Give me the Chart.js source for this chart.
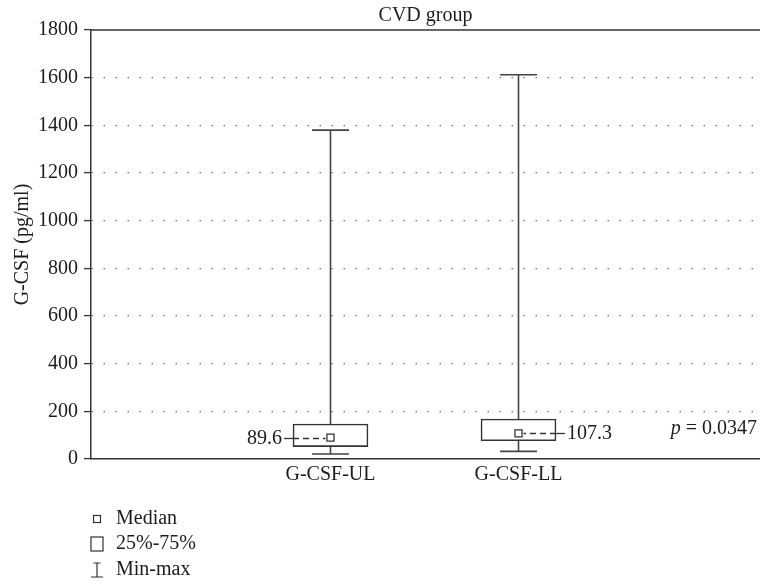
<!DOCTYPE html>
<html>
<head>
<meta charset="utf-8">
<title>CVD group</title>
<script src="https://cdn.jsdelivr.net/npm/chart.js@4.4.1/dist/chart.umd.min.js"></script>
<style>
    html, body { margin: 0; padding: 0; background: #fff; }
    #wrap { width: 760px; height: 584px; }
</style>
</head>
<body>
<div id="wrap"><canvas id="boxChart" width="760" height="584"></canvas></div>
<script>
// Box plot values (pg/ml)
const categories = ["G-CSF-UL", "G-CSF-LL"];
const minVals = [21, 32];
const q1Vals = [52, 77];
const medianVals = [89.6, 107.3];
const q3Vals = [147, 168];
const maxVals = [1380, 1612];
const medianText = ["89.6", "107.3"];
const legendLabels = ["Median", "25%-75%", "Min-max"];
const pValueText = "0.0347";

const yMin = 0;
const yMax = 1800;
const yStep = 200;

const FONT = "'Liberation Serif', 'Times New Roman', serif";
const INK = "#1c1c1c";
const LINE = "#333";

Chart.defaults.font.family = FONT;
Chart.defaults.font.size = 20;
Chart.defaults.color = INK;

// which side of the box the median label sits on
const medianSide = ["left", "right"];

const boxExtras = {
    id: "boxExtras",
    beforeDatasetsDraw(chart) {
        const { ctx, chartArea, scales: { x, y } } = chart;
        ctx.save();
        // top frame line
        ctx.strokeStyle = LINE;
        ctx.lineWidth = 1.5;
        ctx.beginPath();
        ctx.moveTo(chartArea.left, chartArea.top);
        ctx.lineTo(chartArea.right, chartArea.top);
        ctx.stroke();

        // whiskers + caps
        ctx.strokeStyle = "#444";
        ctx.lineWidth = 1.6;
        const cap = 18.5;
        categories.forEach((c, i) => {
            const px = Math.round(x.getPixelForValue(i + 1)) + 0.5;
            [[q3Vals[i], maxVals[i]], [q1Vals[i], minVals[i]]].forEach(([from, to]) => {
                const yTo = y.getPixelForValue(to);
                ctx.beginPath();
                ctx.moveTo(px, y.getPixelForValue(from));
                ctx.lineTo(px, yTo);
                ctx.moveTo(px - cap, yTo);
                ctx.lineTo(px + cap, yTo);
                ctx.stroke();
            });
        });
        ctx.restore();
    },
    afterDatasetsDraw(chart) {
        const { ctx, chartArea, scales: { x, y } } = chart;
        const half = 37.5;
        ctx.save();
        ctx.font = "20px " + FONT;
        ctx.fillStyle = INK;
        ctx.textBaseline = "middle";
        categories.forEach((c, i) => {
            const px = x.getPixelForValue(i + 1);
            const py = Math.round(y.getPixelForValue(medianVals[i])) + 0.5;
            const dir = medianSide[i] === "left" ? -1 : 1;
            const edge = px + dir * half;
            // dashed link from marker to box edge
            ctx.strokeStyle = LINE;
            ctx.lineWidth = 1.3;
            ctx.setLineDash([6, 4]);
            ctx.beginPath();
            ctx.moveTo(edge, py);
            ctx.lineTo(px + dir * 5, py);
            ctx.stroke();
            // short solid lead outside the box
            ctx.setLineDash([]);
            ctx.beginPath();
            ctx.moveTo(edge, py);
            ctx.lineTo(edge + dir * 9, py);
            ctx.stroke();
            ctx.textAlign = dir < 0 ? "right" : "left";
            ctx.fillText(medianText[i], edge + dir * 11, py);
        });

        // p value, lower right of the plot
        const py = chartArea.bottom - 30;
        const right = chartArea.right - 3;
        ctx.textAlign = "right";
        ctx.font = "20px " + FONT;
        const rest = " = " + pValueText;
        ctx.fillText(rest, right, py);
        const restW = ctx.measureText(rest).width;
        ctx.font = "italic 20px " + FONT;
        ctx.fillText("p", right - restW, py);
        ctx.restore();
    },
    afterDraw(chart) {
        // legend below the axis, under the y axis line
        const { ctx, chartArea } = chart;
        const mx = chartArea.left + 6;
        const tx = chartArea.left + 25;
        const rows = [60, 85, 111].map(d => chartArea.bottom + d);
        ctx.save();
        ctx.strokeStyle = LINE;
        ctx.lineWidth = 1.2;
        // median marker
        ctx.strokeRect(mx - 3.5, rows[0] - 3.5, 7, 7);
        // box
        ctx.strokeRect(mx - 6, rows[1] - 7, 12, 14);
        // min-max
        ctx.beginPath();
        ctx.moveTo(mx - 3.5, rows[2] - 7);
        ctx.lineTo(mx + 3.5, rows[2] - 7);
        ctx.moveTo(mx, rows[2] - 7);
        ctx.lineTo(mx, rows[2] + 7);
        ctx.moveTo(mx - 6, rows[2] + 7);
        ctx.lineTo(mx + 6, rows[2] + 7);
        ctx.stroke();

        ctx.fillStyle = INK;
        ctx.font = "20px " + FONT;
        ctx.textAlign = "left";
        ctx.textBaseline = "middle";
        legendLabels.forEach((t, i) => ctx.fillText(t, tx, rows[i]));
        ctx.restore();
    }
};

const ctx = document.getElementById("boxChart");

new Chart(ctx, {
    type: "bar",
    data: {
        datasets: [
            {
                type: "scatter",
                label: "Median",
                data: categories.map((c, i) => ({ x: i + 1, y: medianVals[i] })),
                pointStyle: "rect",
                pointRadius: 5,
                pointBorderWidth: 1.3,
                borderColor: LINE,
                backgroundColor: "#fff",
                order: 1
            },
            {
                label: "25%-75%",
                data: categories.map((c, i) => ({ x: i + 1, y: [q1Vals[i], q3Vals[i]] })),
                backgroundColor: "#fff",
                borderColor: LINE,
                borderWidth: 1.6,
                borderSkipped: false,
                barThickness: 75,
                order: 2
            }
        ]
    },
    options: {
        responsive: false,
        animation: false,
        layout: { padding: 0, autoPadding: false },
        plugins: {
            legend: { display: false },
            tooltip: { enabled: false },
            title: {
                display: true,
                text: "CVD group",
                fullSize: false,
                color: INK,
                font: { size: 20, weight: "normal" },
                padding: { top: 4, bottom: 2 }
            }
        },
        scales: {
            x: {
                type: "linear",
                offset: false,
                min: -0.2739,
                max: 3.2846,
                afterBuildTicks: axis => {
                    axis.ticks = categories.map((c, i) => ({ value: i + 1 }));
                },
                afterFit: scale => {
                    scale.height = 125;
                    scale.paddingLeft = 0;
                    scale.paddingRight = 0;
                },
                ticks: {
                    autoSkip: false,
                    maxRotation: 0,
                    padding: 4,
                    color: INK,
                    callback: v => categories[Math.round(v) - 1]
                },
                grid: { display: false, drawTicks: false, offset: false },
                border: { display: true, color: LINE, width: 1.5 }
            },
            y: {
                min: yMin,
                max: yMax,
                afterFit: scale => { scale.width = 91; },
                ticks: { stepSize: yStep, padding: 6, color: INK, callback: v => String(v) },
                title: {
                    display: true,
                    text: "G-CSF (pg/ml)",
                    color: INK,
                    font: { size: 20 },
                    padding: { top: 11, bottom: 0 }
                },
                grid: {
                    color: c => (c.tick && (c.tick.value === yMin || c.tick.value === yMax)) ? "rgba(0,0,0,0)" : "#777",
                    lineWidth: 1.2,
                    tickColor: LINE,
                    tickLength: 7,
                    tickWidth: 1.3
                },
                border: { display: true, color: LINE, width: 1.5, dash: [1.5, 10.5] }
            }
        }
    },
    plugins: [boxExtras]
});
</script>
</body>
</html>
